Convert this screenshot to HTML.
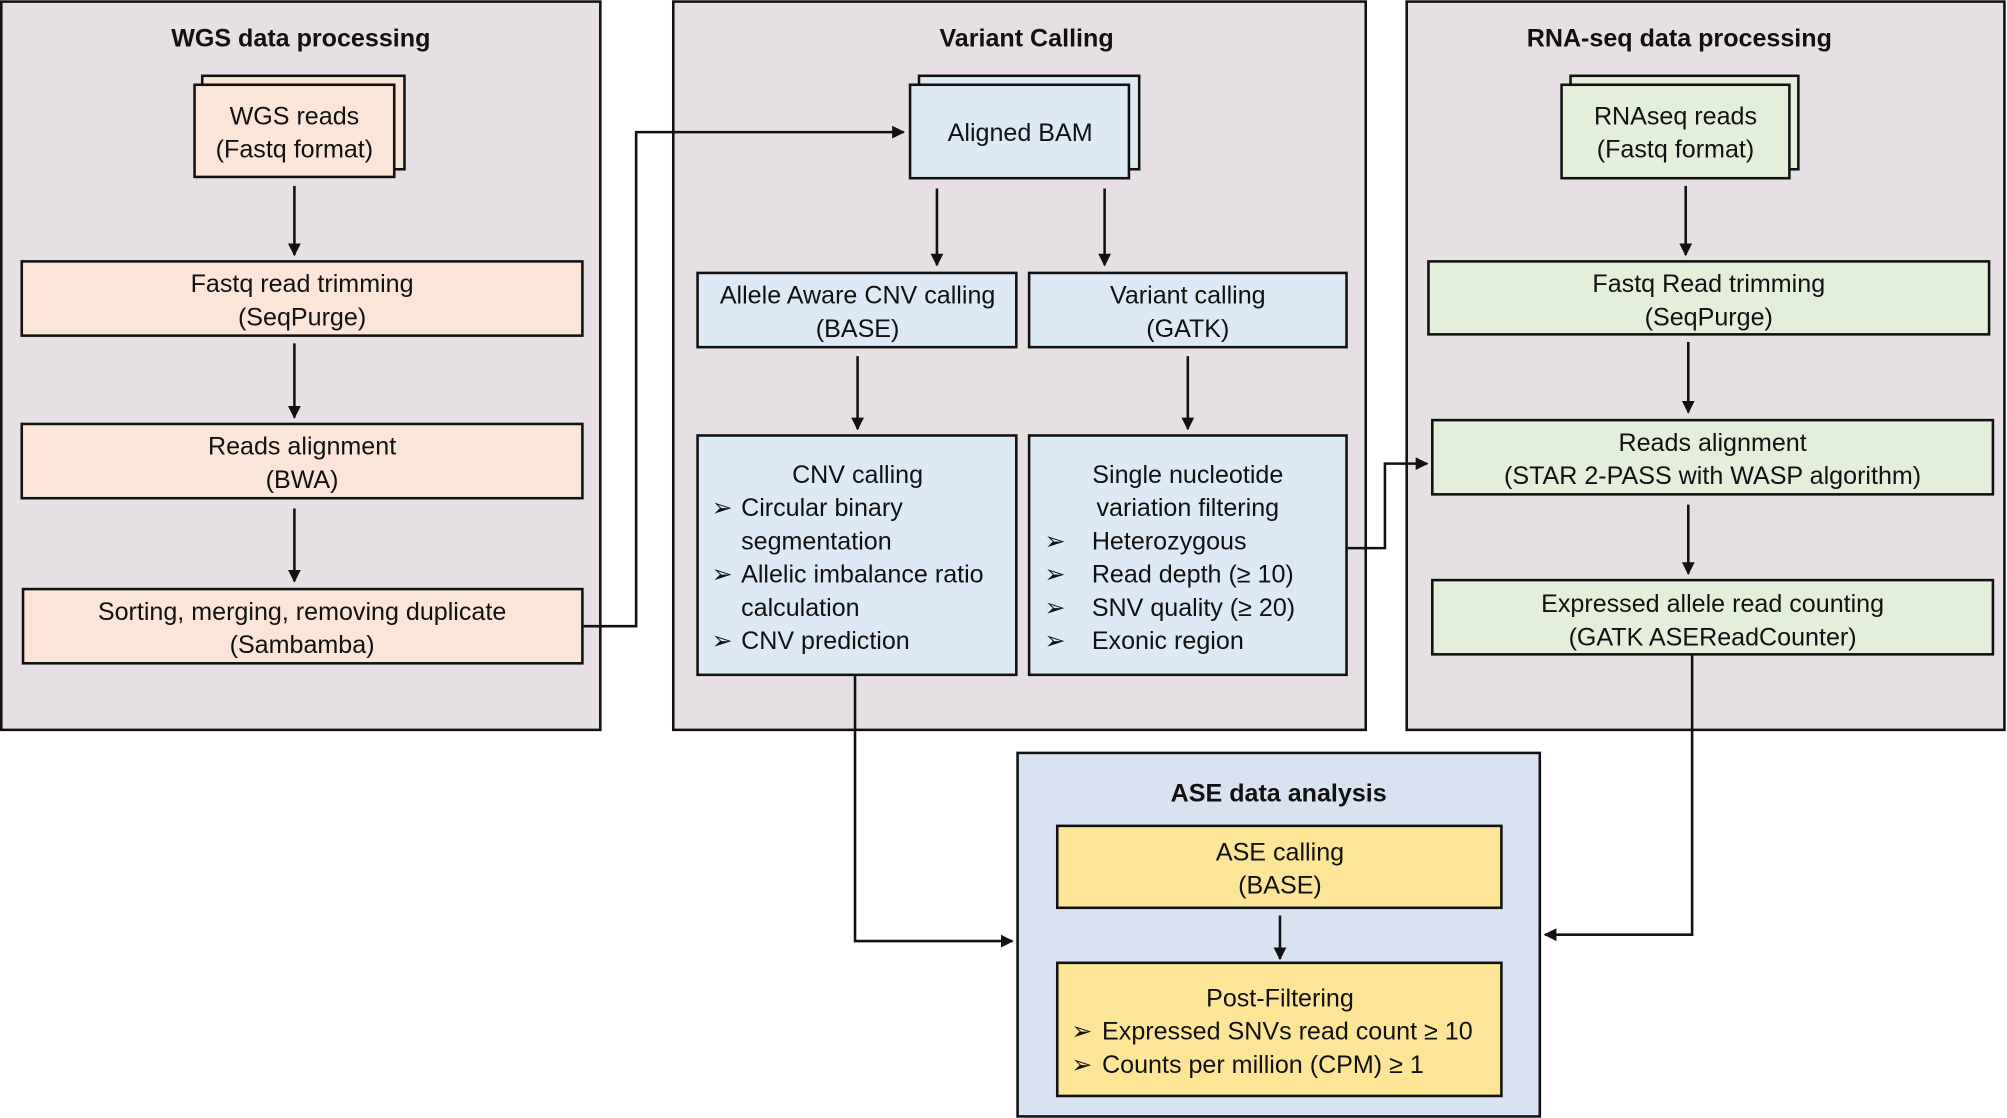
<!DOCTYPE html>
<html><head><meta charset="utf-8"><style>
html,body{margin:0;padding:0;background:#fff}
svg{display:block}
text{font-family:"Liberation Sans",Arial,sans-serif;font-size:19.6px;fill:#111}
.t{font-weight:bold;font-size:19.6px}
.m{text-anchor:middle}
</style></head><body>
<svg width="2007" height="1118" viewBox="0 0 1568 873" xmlns="http://www.w3.org/2000/svg">
<defs><marker id="a" markerWidth="10" markerHeight="10" refX="9" refY="5" orient="auto" markerUnits="userSpaceOnUse"><path d="M0,0 L10,5 L0,10 z" fill="#111"/></marker></defs>
<g stroke="#111" stroke-width="2">
<rect x="1" y="1" width="468" height="569" fill="#e6e0e4"/>
<rect x="526" y="1" width="541" height="569" fill="#e6e0e4"/>
<rect x="1099" y="1" width="467" height="569" fill="#e6e0e4"/>
<rect x="795" y="588" width="408" height="284" fill="#d9e2f1"/>
<rect x="158" y="59" width="158" height="73" fill="#fbe5d8"/>
<rect x="152" y="66" width="156" height="72" fill="#fbe5d8"/>
<rect x="17" y="204" width="438" height="58" fill="#fbe5d8"/>
<rect x="17" y="331" width="438" height="58" fill="#fbe5d8"/>
<rect x="18" y="460" width="437" height="58" fill="#fbe5d8"/>
<rect x="718" y="59" width="172" height="73" fill="#dde9f5"/>
<rect x="711" y="66" width="171" height="73" fill="#dde9f5"/>
<rect x="545" y="213" width="249" height="58" fill="#dde9f5"/>
<rect x="804" y="213" width="248" height="58" fill="#dde9f5"/>
<rect x="545" y="340" width="249" height="187" fill="#dde9f5"/>
<rect x="804" y="340" width="248" height="187" fill="#dde9f5"/>
<rect x="1227" y="59" width="178" height="73" fill="#e3efda"/>
<rect x="1220" y="66" width="178" height="73" fill="#e3efda"/>
<rect x="1116" y="204" width="438" height="57" fill="#e3efda"/>
<rect x="1119" y="328" width="438" height="58" fill="#e3efda"/>
<rect x="1119" y="453" width="438" height="58" fill="#e3efda"/>
<rect x="826" y="645" width="347" height="64" fill="#fde598"/>
<rect x="826" y="752" width="347" height="104" fill="#fde598"/>
</g>
<g stroke="#111" stroke-width="2" fill="none" marker-end="url(#a)">
<path d="M230,145 V199"/><path d="M230,268 V326"/><path d="M230,397 V454"/>
<path d="M456,489 H497 V103 H706"/>
<path d="M732,147 V207"/><path d="M863,147 V207"/>
<path d="M670,278 V335"/><path d="M928,278 V335"/>
<path d="M1053,428 H1082 V362 H1115"/>
<path d="M1317,145 V199"/><path d="M1319,267 V322"/><path d="M1319,394 V448"/>
<path d="M668,527 V735 H791"/>
<path d="M1322,511 V730 H1207"/>
<path d="M1000,715 V749"/>
</g>
<text class="t m" x="235" y="36">WGS data processing</text>
<text class="t m" x="802" y="36">Variant Calling</text>
<text class="t m" x="1312" y="36">RNA-seq data processing</text>
<text class="t m" x="999" y="626">ASE data analysis</text>
<text class="m" x="230" y="97">WGS reads</text><text class="m" x="230" y="123">(Fastq format)</text>
<text class="m" x="236" y="228">Fastq read trimming</text><text class="m" x="236" y="254">(SeqPurge)</text>
<text class="m" x="236" y="355">Reads alignment</text><text class="m" x="236" y="381">(BWA)</text>
<text class="m" x="236" y="484">Sorting, merging, removing duplicate</text><text class="m" x="236" y="510">(Sambamba)</text>
<text class="m" x="797" y="110">Aligned BAM</text>
<text class="m" x="670" y="237">Allele Aware CNV calling</text><text class="m" x="670" y="263">(BASE)</text>
<text class="m" x="928" y="237">Variant calling</text><text class="m" x="928" y="263">(GATK)</text>
<text class="m" x="670" y="377">CNV calling</text>
<text class="m" x="928" y="377">Single nucleotide</text><text class="m" x="928" y="403">variation filtering</text>
<text class="m" x="1309" y="97">RNAseq reads</text><text class="m" x="1309" y="123">(Fastq format)</text>
<text class="m" x="1335" y="228">Fastq Read trimming</text><text class="m" x="1335" y="254">(SeqPurge)</text>
<text class="m" x="1338" y="352">Reads alignment</text><text class="m" x="1338" y="378">(STAR 2-PASS with WASP algorithm)</text>
<text class="m" x="1338" y="478">Expressed allele read counting</text><text class="m" x="1338" y="504">(GATK ASEReadCounter)</text>
<text class="m" x="1000" y="672">ASE calling</text><text class="m" x="1000" y="698">(BASE)</text>
<text class="m" x="1000" y="786">Post-Filtering</text>
<text x="556" y="403">➢</text><text x="579" y="403">Circular binary</text>
<text x="579" y="429">segmentation</text>
<text x="556" y="455">➢</text><text x="579" y="455">Allelic imbalance ratio</text>
<text x="579" y="481">calculation</text>
<text x="556" y="507">➢</text><text x="579" y="507">CNV prediction</text>
<text x="816" y="429">➢</text><text x="853" y="429">Heterozygous</text>
<text x="816" y="455">➢</text><text x="853" y="455">Read depth (≥ 10)</text>
<text x="816" y="481">➢</text><text x="853" y="481">SNV quality (≥ 20)</text>
<text x="816" y="507">➢</text><text x="853" y="507">Exonic region</text>
<text x="837" y="812">➢</text><text x="861" y="812">Expressed SNVs read count ≥ 10</text>
<text x="837" y="838">➢</text><text x="861" y="838">Counts per million (CPM) ≥ 1</text>
</svg>
</body></html>
